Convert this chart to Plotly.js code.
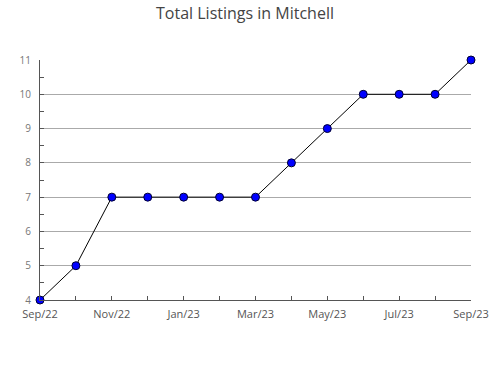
<!DOCTYPE html>
<html>
<head>
<meta charset="utf-8">
<script src="https://cdn.plot.ly/plotly-3.0.1.min.js"></script>
<style>html,body{margin:0;padding:0;background:#fff;}#chart{width:490px;height:380px;}</style>
</head>
<body>
<div id="chart"></div>
<script>
const months = ["Sep/22","Oct/22","Nov/22","Dec/22","Jan/23","Feb/23","Mar/23","Apr/23","May/23","Jun/23","Jul/23","Aug/23","Sep/23"];
const listings = [4,5,7,7,7,7,7,8,9,10,10,10,11];
const shownTickLabels = ["Sep/22","Nov/22","Jan/23","Mar/23","May/23","Jul/23","Sep/23"];

const xIdx = months.map((m,i)=>i);
const tickText = months.map(m => shownTickLabels.includes(m) ? m : "");

Plotly.newPlot("chart", [{
  x: xIdx, y: listings, type: "scatter", mode: "lines+markers",
  line: {color: "#000", width: 1},
  marker: {color: "#0000ff", size: 8, line: {color: "#000033", width: 1}},
  cliponaxis: false, hoverinfo: "none"
}], {
  width: 490, height: 380,
  margin: {l: 40, r: 19, t: 60, b: 80},
  paper_bgcolor: "#fff", plot_bgcolor: "#fff",
  font: {family: "Open Sans, sans-serif", color: "#555", size: 10},
  title: {text: "Total Listings in Mitchell", x: 0.5, xanchor: "center", y: 0.965, yanchor: "middle",
          font: {family: "Open Sans, sans-serif", size: 16, color: "#444"}},
  showlegend: false,
  xaxis: {range: [0, 12], tickvals: xIdx, ticktext: tickText, ticks: "inside", ticklen: 4,
          tickcolor: "#555", showgrid: false, zeroline: false, showline: true, linecolor: "#555",
          linewidth: 1, tickfont: {size: 11, color: "#555"}, ticklabelstandoff: 4, fixedrange: true},
  yaxis: {range: [4, 11], dtick: 1, tick0: 4, ticks: "inside", ticklen: 4, tickcolor: "#555",
          showgrid: true, gridcolor: "#aaa", gridwidth: 1, zeroline: false, showline: true,
          linecolor: "#555", linewidth: 1, tickfont: {size: 10, color: "#777"}, ticklabelstandoff: 6,
          minor: {dtick: 0.5, ticks: "inside", ticklen: 4, tickcolor: "#555", showgrid: false},
          fixedrange: true}
}, {staticPlot: true});
</script>
</body>
</html>
